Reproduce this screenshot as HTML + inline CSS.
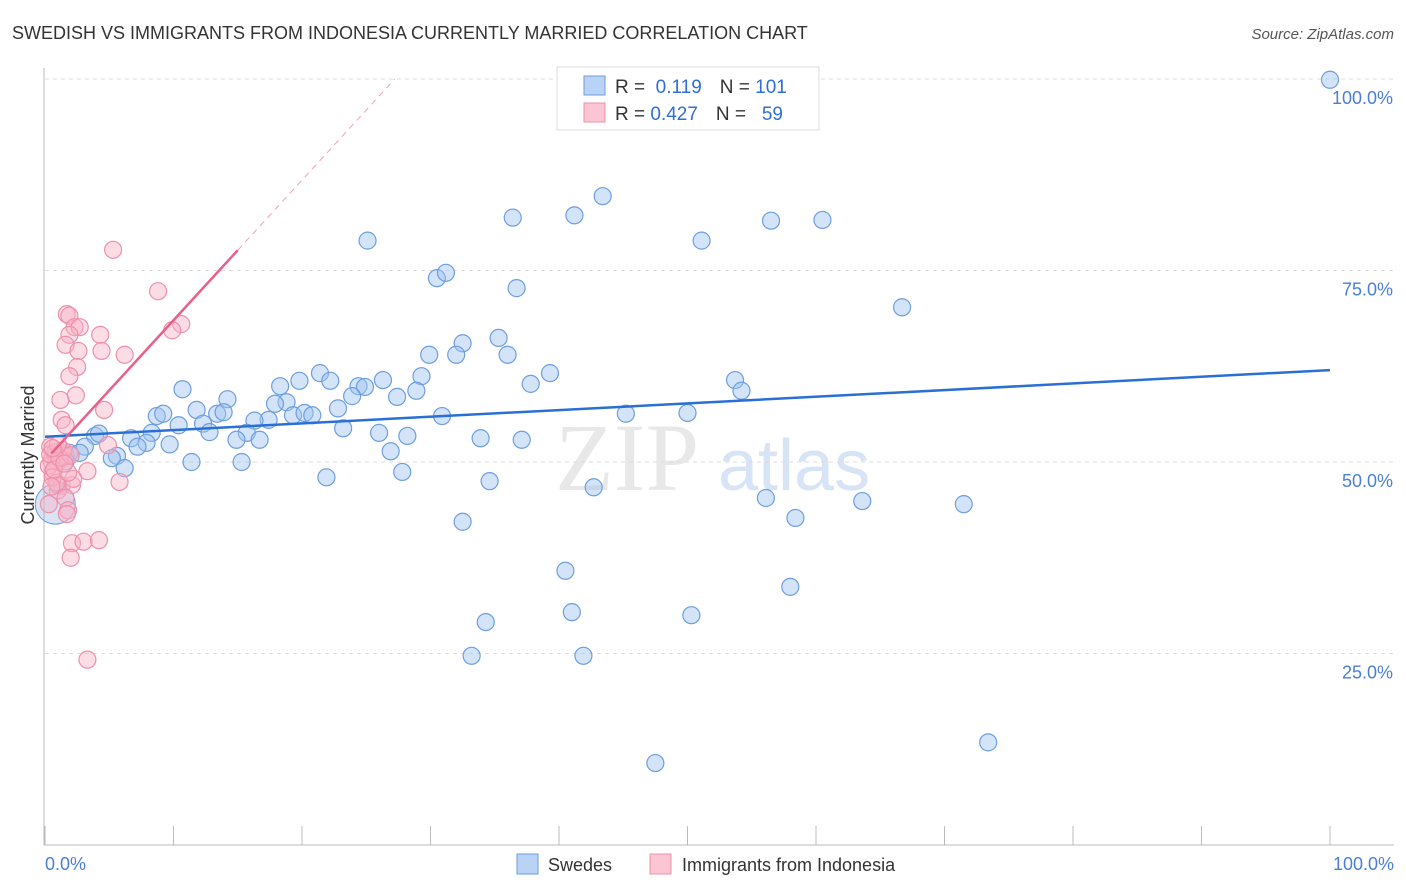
<!DOCTYPE html>
<html><head><meta charset="utf-8"><style>
body{margin:0;background:#fff;font-family:"Liberation Sans",sans-serif}
svg{display:block}
</style></head><body>
<svg id="chart" width="1406" height="892">
<text x="12" y="39" font-size="18" fill="#333">SWEDISH VS IMMIGRANTS FROM INDONESIA CURRENTLY MARRIED CORRELATION CHART</text>
<text x="1394" y="39" font-size="15" fill="#555" font-style="italic" text-anchor="end">Source: ZipAtlas.com</text>
<text x="555" y="490" font-size="96" fill="#e8e8e8" font-family="Liberation Serif,serif">ZIP</text>
<text x="718" y="490" font-size="72" fill="#d6e4f5">atlas</text>
<g id="grid"></g>
<g id="marks"></g>
<text transform="translate(34,455) rotate(-90)" font-size="18" fill="#333" text-anchor="middle">Currently Married</text>
<text x="45" y="870" font-size="18" fill="#4a7fd6">0.0%</text>
<text x="1394" y="870" font-size="18" fill="#4a7fd6" text-anchor="end">100.0%</text>
<g>
<rect x="557" y="67" width="262" height="63" fill="#fff" stroke="#ddd"/>
<rect x="584" y="76" width="21" height="19" fill="#b8d3f5" stroke="#6d9ee0"/>
<rect x="584" y="103" width="21" height="19" fill="#fbc5d4" stroke="#ee90aa"/>
<text x="615" y="93" font-size="19" fill="#333">R = <tspan fill="#2f6fd6">&#160;0.119</tspan><tspan dx="18" fill="#333">N = </tspan><tspan fill="#2f6fd6">101</tspan></text>
<text x="615" y="120" font-size="19" fill="#333">R = <tspan fill="#2f6fd6">0.427</tspan><tspan dx="18" fill="#333">N = </tspan><tspan fill="#2f6fd6">&#160;&#160;59</tspan></text>
</g>
<g>
<rect x="517" y="854" width="21" height="20" fill="#b8d3f5" stroke="#6d9ee0"/>
<text x="548" y="871" font-size="18" fill="#333">Swedes</text>
<rect x="650" y="854" width="21" height="20" fill="#fbc5d4" stroke="#ee90aa"/>
<text x="682" y="871" font-size="18" fill="#333">Immigrants from Indonesia</text>
</g>
</svg>
<script>
const yTicks=[25,50,75,100];
const yTickLabels=["25.0%","50.0%","75.0%","100.0%"];
const xTicks=[0,10,20,30,40,50,60,70,80,90,100];
const blueX=[100,43.4,36.4,41.2,56.5,60.5,25.1,51.1,30.5,31.2,36.7,66.7,35.3,32.5,29.9,32.0,36.0,21.4,39.3,29.3,26.3,19.8,22.2,53.7,10.7,18.3,24.4,24.9,37.8,28.9,54.2,14.2,23.9,27.4,18.8,17.9,11.8,22.8,8.7,9.2,13.4,13.9,19.3,20.2,20.8,17.4,16.3,30.9,45.2,50.0,12.3,10.4,23.2,12.8,8.3,15.7,3.9,6.7,4.2,26.0,28.2,16.7,14.9,7.9,33.9,37.1,9.7,3.1,7.2,26.9,1.9,2.7,5.6,5.2,1.6,11.4,15.3,6.2,27.8,21.9,34.6,42.7,56.1,63.6,71.5,58.4,32.5,1.0,40.5,58.0,41.0,50.3,34.3,33.2,41.9,73.4,47.5,46.8];
const blueY=[99.9,84.7,81.9,82.2,81.5,81.6,78.9,78.9,74.0,74.7,72.7,70.2,66.2,65.5,64.0,64.0,64.0,61.6,61.6,61.2,60.7,60.6,60.6,60.7,59.5,59.9,59.9,59.8,60.2,59.3,59.3,58.2,58.6,58.5,57.8,57.6,56.8,57.0,56.0,56.3,56.3,56.5,56.1,56.4,56.1,55.5,55.4,56.0,56.3,56.4,55.0,54.8,54.4,53.9,53.8,53.8,53.4,53.1,53.7,53.8,53.4,52.9,52.9,52.5,53.1,52.9,52.3,52.0,52.0,51.4,51.2,51.2,50.8,50.5,50.1,50.0,50.0,49.2,48.7,48.0,47.5,46.7,45.3,44.9,44.5,42.7,42.2,47.0,35.8,33.7,30.4,30.0,29.1,24.7,24.7,13.4,10.7,100];
const pinkX=[5.3,8.8,1.7,1.9,2.3,2.7,10.6,9.9,4.3,1.9,1.6,2.6,4.4,6.2,2.5,1.9,2.4,1.2,4.6,1.3,1.6,4.9,1.2,0.8,0.9,1.6,3.3,0.6,5.8,1.3,2.1,1.0,1.6,1.8,1.7,2.1,3.0,4.2,2.0,3.3,0.4,0.8,1.2,0.5,0.3,0.6,0.9,2.2,1.8,0.4,1.4,0.7,1.1,2.0,0.5,1.5,0.3,1.0,0.6];
const pinkY=[77.7,72.3,69.3,69.1,67.6,67.6,68.0,67.2,66.6,66.6,65.3,64.5,64.5,64.0,62.4,61.2,58.7,58.1,56.8,55.5,54.8,52.2,51.2,50.8,50.0,50.8,48.8,48.6,47.4,46.9,47.0,46.3,45.3,43.7,43.2,39.4,39.6,39.8,37.5,24.2,52.0,51.3,50.3,50.1,49.5,48.0,47.3,47.8,48.6,51.0,51.5,49.0,50.6,50.9,46.8,49.8,44.5,52.3,51.8];
const blueTrend=[53.3,62.0];
const pinkTrend=[50.2,1.83];
const NS="http://www.w3.org/2000/svg";
const X=v=>45+v*12.85, Y=v=>845-v*7.66;
function mk(tag,attrs,parent){const e=document.createElementNS(NS,tag);for(const k in attrs)e.setAttribute(k,attrs[k]);parent.appendChild(e);return e;}
const grid=document.getElementById('grid'), marks=document.getElementById('marks'), svg=document.getElementById('chart');
yTicks.forEach((t,i)=>{
 const l=mk('line',{x1:45,x2:1394,y1:Y(t),y2:Y(t),stroke:'#ddd','stroke-dasharray':'4,4'},grid);
 
 
 const tx=mk('text',{x:1393,y:Y(t)+25,'font-size':18,fill:'#4a7fd6','text-anchor':'end'},svg);
 tx.textContent=yTickLabels[i];
 
 
});
const ax=mk('line',{x1:44,x2:44,y1:68,y2:845,stroke:'#bbb'},grid);


const bx=mk('line',{x1:44,x2:1394,y1:845,y2:845,stroke:'#bbb'},grid);


xTicks.forEach(t=>{
 const l=mk('line',{x1:X(t),x2:X(t),y1:826,y2:845,stroke:'#bbb'},grid);
 
 
});
const big=mk('circle',{cx:X(0.8),cy:Y(44.5),r:20,fill:'rgba(130,170,225,0.3)',stroke:'#6d9ee0','stroke-width':1},marks);


blueX.forEach((x,i)=>{
 const c=mk('circle',{cx:X(x),cy:Y(blueY[i]),r:8.5,fill:'rgba(160,196,240,0.45)',stroke:'#6d9ee0','stroke-width':1.2},marks);
 
 
});
pinkX.forEach((x,i)=>{
 const c=mk('circle',{cx:X(x),cy:Y(pinkY[i]),r:8.5,fill:'rgba(248,180,200,0.45)',stroke:'#ee90aa','stroke-width':1.2},marks);
 
 
});
const bt=mk('line',{x1:X(0),y1:Y(blueTrend[0]),x2:X(100),y2:Y(blueTrend[1]),stroke:'#2a6fd6','stroke-width':2.5},marks);


const px=v=>pinkTrend[0]+pinkTrend[1]*v;
const pt=mk('line',{x1:X(0.5),y1:Y(px(0.5)),x2:X(15),y2:Y(px(15)),stroke:'#e8608a','stroke-width':2.5},marks);


const xEnd=(100-pinkTrend[0])/pinkTrend[1];
const pd=mk('line',{x1:X(15),y1:Y(px(15)),x2:X(xEnd),y2:Y(100),stroke:'#f0a0b8','stroke-width':1,'stroke-dasharray':'6,5'},marks);


</script>
</body></html>
